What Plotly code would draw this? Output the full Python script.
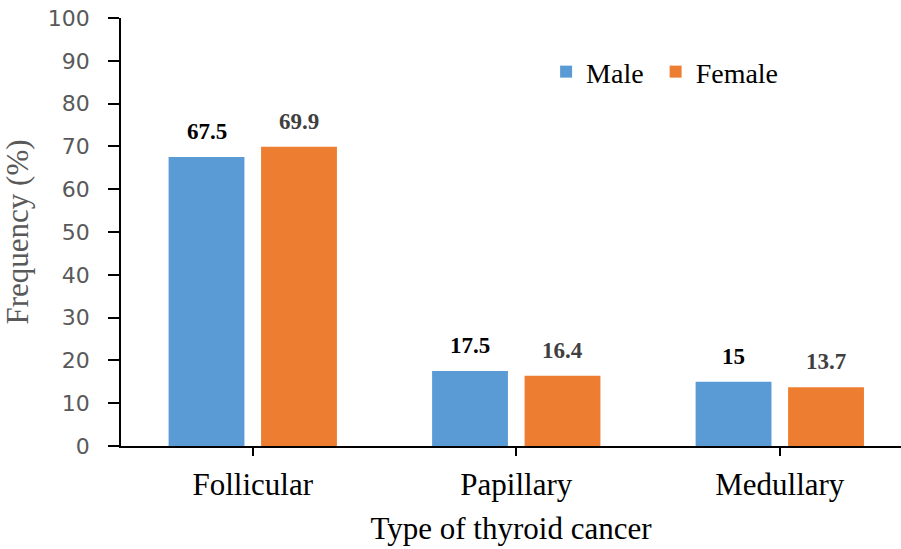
import plotly.graph_objects as go

categories = ["Follicular", "Papillary", "Medullary"]
male = [67.5, 17.5, 15]
female = [69.9, 16.4, 13.7]
male_labels = ["67.5", "17.5", "15"]
female_labels = ["69.9", "16.4", "13.7"]
y_ticks = [0, 10, 20, 30, 40, 50, 60, 70, 80, 90, 100]

SERIF = "Liberation Serif, Times New Roman, serif"

fig = go.Figure()
fig.add_trace(go.Bar(name="Male\u00a0", x=categories, y=male, marker=dict(color="#5B9BD5", line=dict(width=0))))
fig.add_trace(go.Bar(name="Female", x=categories, y=female, marker=dict(color="#ED7D31", line=dict(width=0))))

annotations = []
for c, v, t in zip(categories, male, male_labels):
    annotations.append(dict(x=c, y=v, text="<b>%s</b>" % t, xref="x", yref="y", showarrow=False,
                            xshift=-46, yshift=11, yanchor="bottom",
                            font=dict(family=SERIF, size=23, color="#000000")))
for c, v, t in zip(categories, female, female_labels):
    annotations.append(dict(x=c, y=v, text="<b>%s</b>" % t, xref="x", yref="y", showarrow=False,
                            xshift=46, yshift=11, yanchor="bottom",
                            font=dict(family=SERIF, size=23, color="#404040")))

fig.update_layout(
    width=901, height=549,
    margin=dict(l=121, r=0, t=18, b=103, autoexpand=False),
    paper_bgcolor="white", plot_bgcolor="white",
    barmode="group", bargap=0.298, bargroupgap=0.18,
    showlegend=True,
    legend=dict(orientation="h", x=0.545, y=0.874, xanchor="left", yanchor="middle",
                font=dict(family=SERIF, size=28, color="#000000"),
                bgcolor="rgba(0,0,0,0)", itemwidth=30, tracegroupgap=0),
    annotations=annotations,
    xaxis=dict(
        type="category", range=[-0.5, 2.46], automargin=False,
        showline=True, linecolor="#000000", linewidth=1.5,
        ticks="outside", ticklen=8, tickwidth=1.5, tickcolor="#000000",
        tickfont=dict(family=SERIF, size=31, color="#000000"),
        ticklabelstandoff=2,
        showgrid=False, zeroline=False,
        title=dict(text="Type of thyroid cancer", font=dict(family=SERIF, size=31, color="#000000"), standoff=16),
    ),
    yaxis=dict(
        range=[0, 100], tickvals=y_ticks, ticktext=[str(v) for v in y_ticks], automargin=False,
        showline=True, linecolor="#000000", linewidth=1.5,
        ticks="outside", ticklen=11, tickwidth=1.5, tickcolor="#000000",
        tickfont=dict(family="DejaVu Sans, sans-serif", size=22, color="#595959"),
        ticklabelstandoff=14,
        showgrid=False, zeroline=False,
        title=dict(text="Frequency (%)", font=dict(family=SERIF, size=31, color="#595959"), standoff=10),
    ),
)

fig.write_html("out.html", config={"displayModeBar": False},
               post_script="document.body.style.margin='0';")
